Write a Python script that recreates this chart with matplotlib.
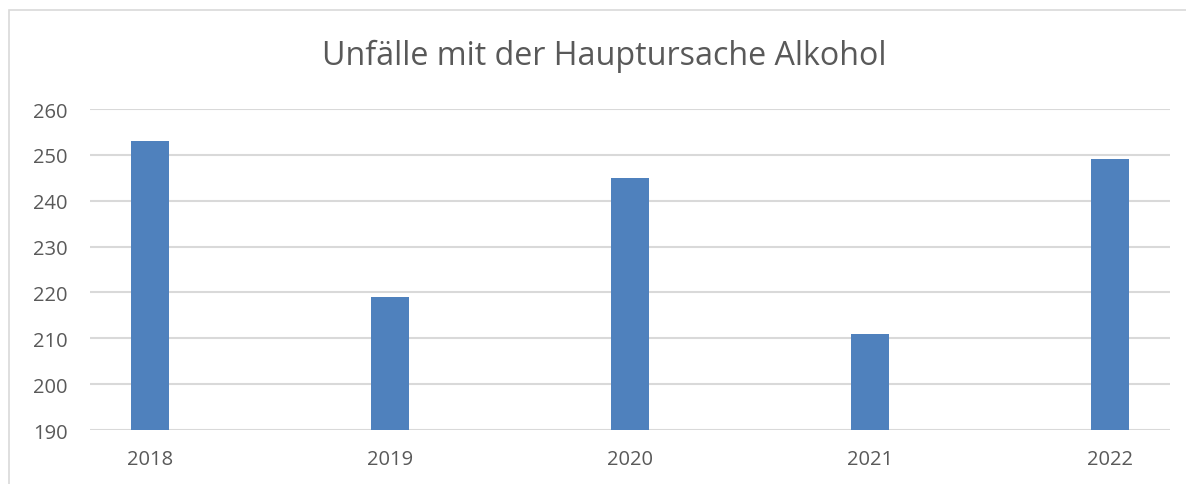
import matplotlib
matplotlib.use("Agg")
import matplotlib.pyplot as plt
from matplotlib.patches import Rectangle

years = ["2018", "2019", "2020", "2021", "2022"]
values = [253, 219, 245, 211, 249]
title = "Unfälle mit der Hauptursache Alkohol"

W, H = 1186, 485
fig = plt.figure(figsize=(W / 100, H / 100), dpi=100)
plt.rcParams['font.family'] = ['Open Sans', 'DejaVu Sans']

ax = fig.add_axes([90 / W, 54 / H, (1170 - 90) / W, (431 - 110) / H])
x = list(range(len(years)))
ax.bar(x, values, width=0.155, color="#4f81bd", zorder=3)
ax.set_ylim(190, 260)
ax.set_xlim(-0.25, 4.25)
ax.set_yticks(range(190, 261, 10))
ax.set_xticks(x)
ax.set_xticklabels(years)
ax.yaxis.grid(True, color="#d9d9d9", linewidth=1.5, zorder=0)
for s in ax.spines.values():
    s.set_visible(False)
ax.tick_params(axis="both", length=0, labelsize=14.5, colors="#595959")
ax.tick_params(axis="y", pad=16)
ax.tick_params(axis="x", pad=14)

fig.text(0.5 * (320 + 888) / W, 1 - 56 / H, title, ha="center", va="center",
         fontsize=23.2, color="#595959")

frame = Rectangle((8.5 / W, -0.1), 1.2, 1 - 11 / H + 0.1, transform=fig.transFigure,
                  fill=False, edgecolor="#d9d9d9", linewidth=1.2, clip_on=False)
fig.add_artist(frame)

fig.savefig("out.png", dpi=100)
